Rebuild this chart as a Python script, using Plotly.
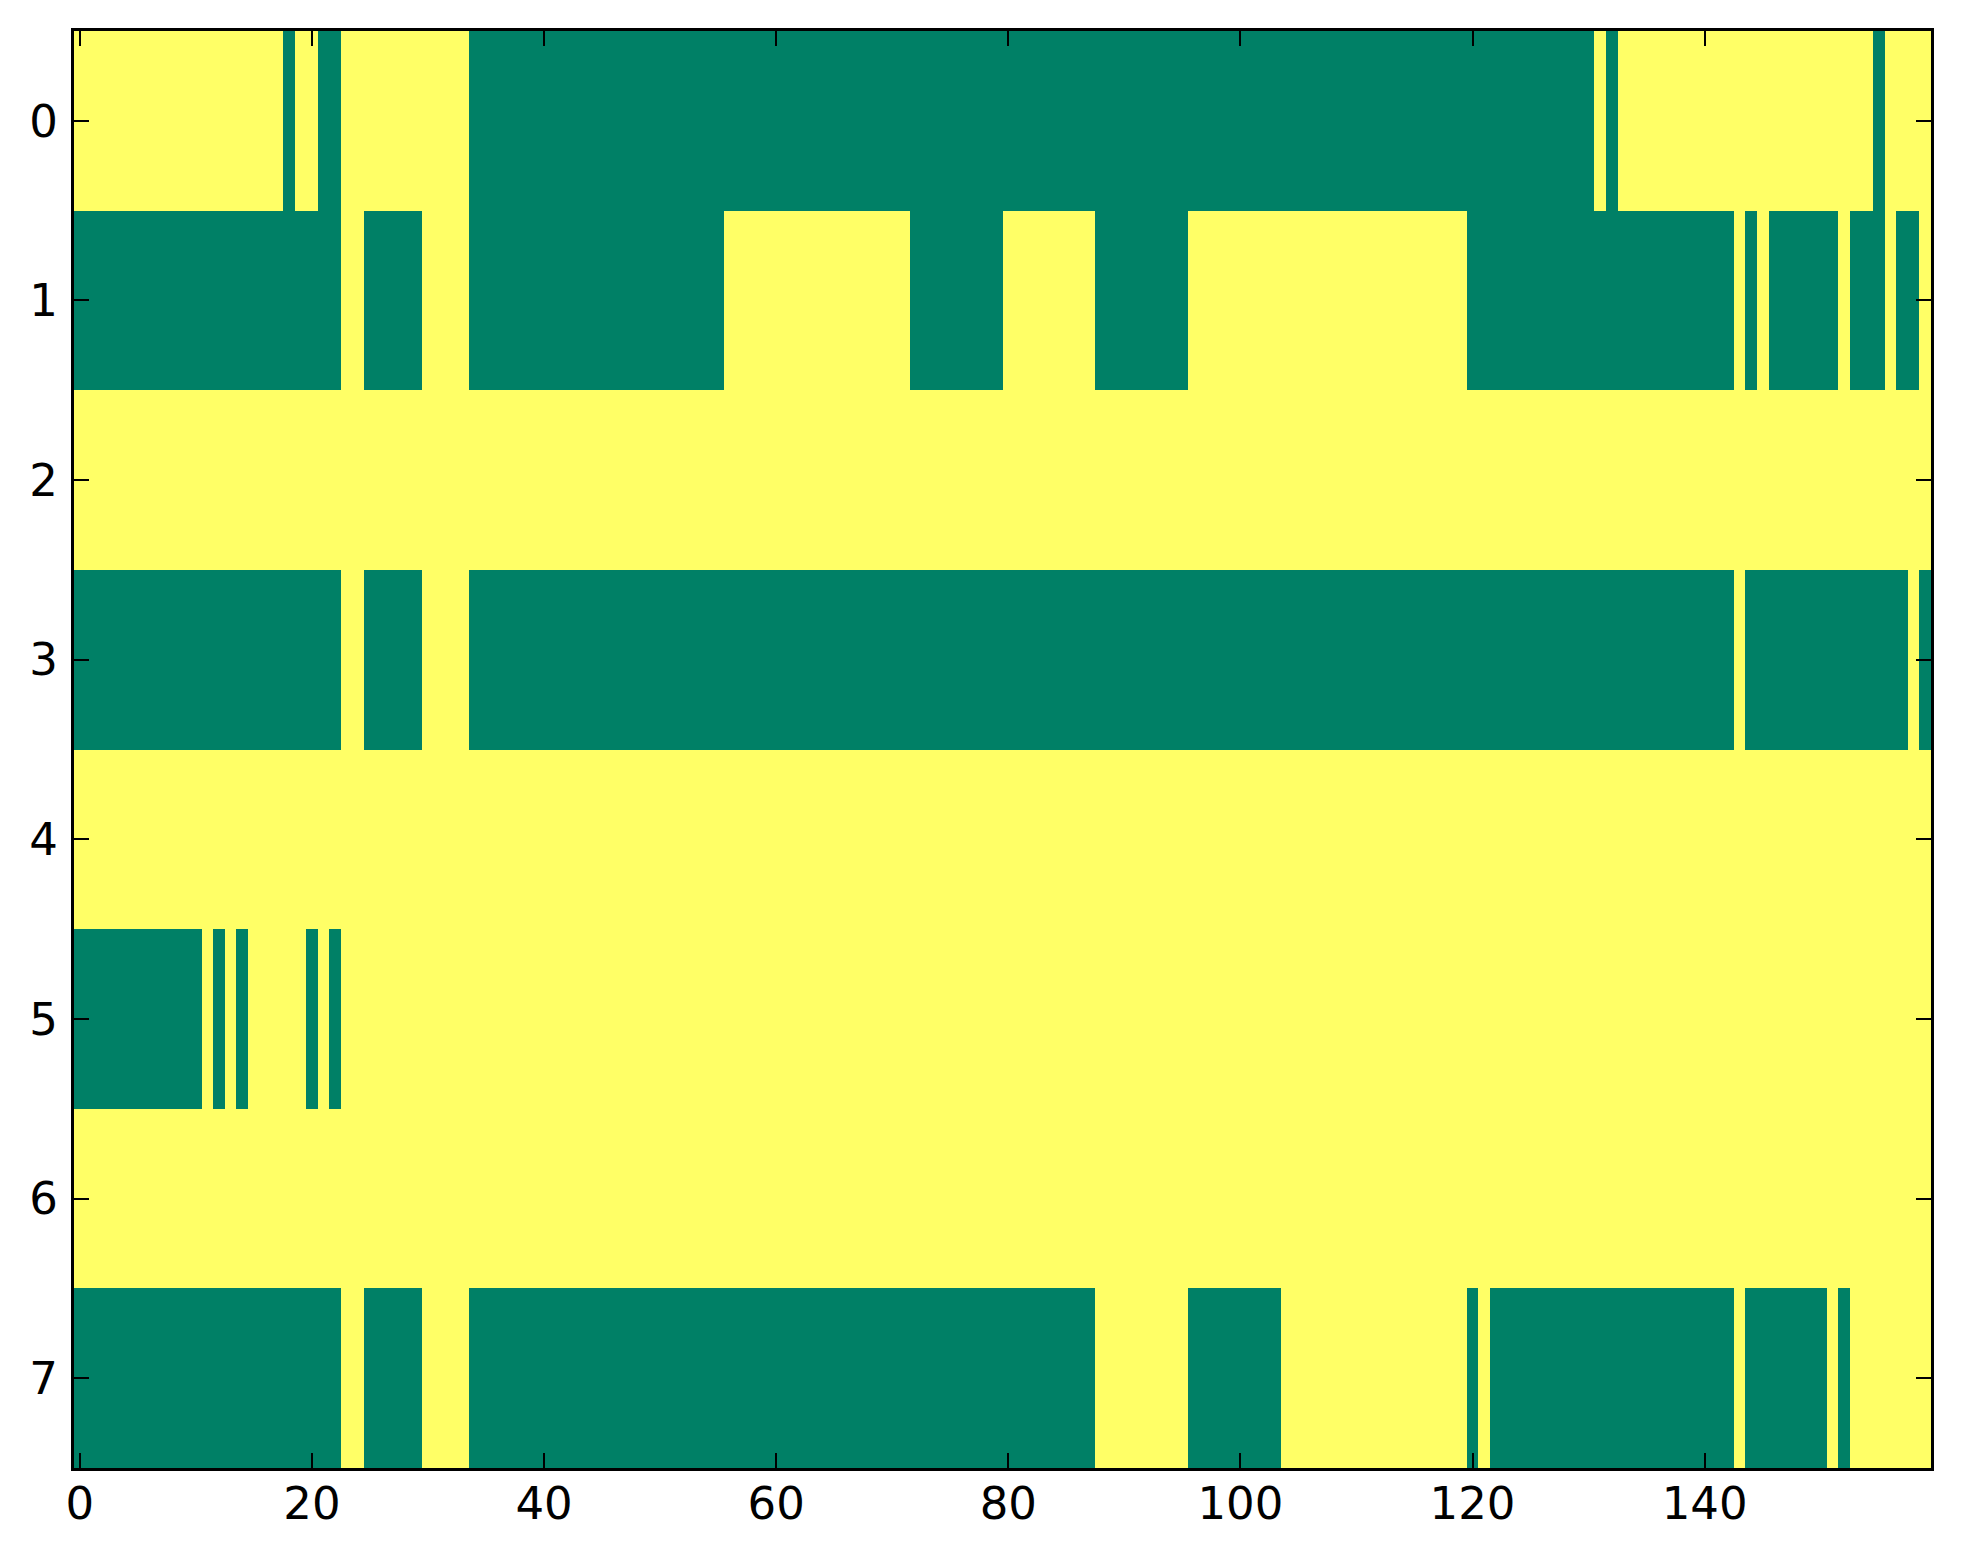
import numpy as np
import plotly.graph_objects as go

# Grid size (rows x columns)
n_rows = 8
n_cols = 160

# Green (value 0) column spans per row, inclusive; everything else is yellow (value 1)
row0_green = [(18, 18), (21, 22), (34, 130), (132, 132), (155, 155)]
row1_green = [(0, 22), (25, 29), (34, 55), (72, 79), (88, 95), (120, 142),
              (144, 144), (146, 151), (153, 155), (157, 158)]
row2_green = []
row3_green = [(0, 22), (25, 29), (34, 142), (144, 157), (159, 159)]
row4_green = []
row5_green = [(0, 10), (12, 12), (14, 14), (20, 20), (22, 22)]
row6_green = []
row7_green = [(0, 22), (25, 29), (34, 87), (96, 103), (120, 120), (122, 142),
              (144, 150), (152, 152)]

green_spans = [row0_green, row1_green, row2_green, row3_green,
               row4_green, row5_green, row6_green, row7_green]

# Build the matrix
z = np.ones((n_rows, n_cols))
for r, spans in enumerate(green_spans):
    for a, b in spans:
        z[r, a:b + 1] = 0

x_ticks = [0, 20, 40, 60, 80, 100, 120, 140]
y_ticks = list(range(n_rows))

fig = go.Figure(go.Heatmap(
    z=z,
    x=list(range(n_cols)),
    y=list(range(n_rows)),
    colorscale=[[0.0, '#008066'], [1.0, '#ffff66']],
    zmin=0, zmax=1,
    showscale=False,
    hoverinfo='skip'
))

axis_style = dict(
    showline=True, linecolor='black', linewidth=3, mirror='allticks',
    ticks='inside', ticklen=15, tickwidth=2, tickcolor='black',
    showgrid=False, zeroline=False,
    tickfont=dict(family='DejaVu Sans', size=45, color='black'),
)

fig.update_xaxes(range=[-0.5, n_cols - 0.5], tickvals=x_ticks,
                 ticklabelstandoff=-6, **axis_style)
fig.update_yaxes(range=[n_rows - 0.5, -0.5], tickvals=y_ticks,
                 ticklabelstandoff=4, **axis_style)

# page body has an 8px margin, so the figure is a bit smaller than the window
fig.update_layout(
    width=1955, height=1556,
    margin=dict(l=66, r=32, t=23, b=96),
    paper_bgcolor='white',
    plot_bgcolor='white',
)

fig.write_html("out.html")
